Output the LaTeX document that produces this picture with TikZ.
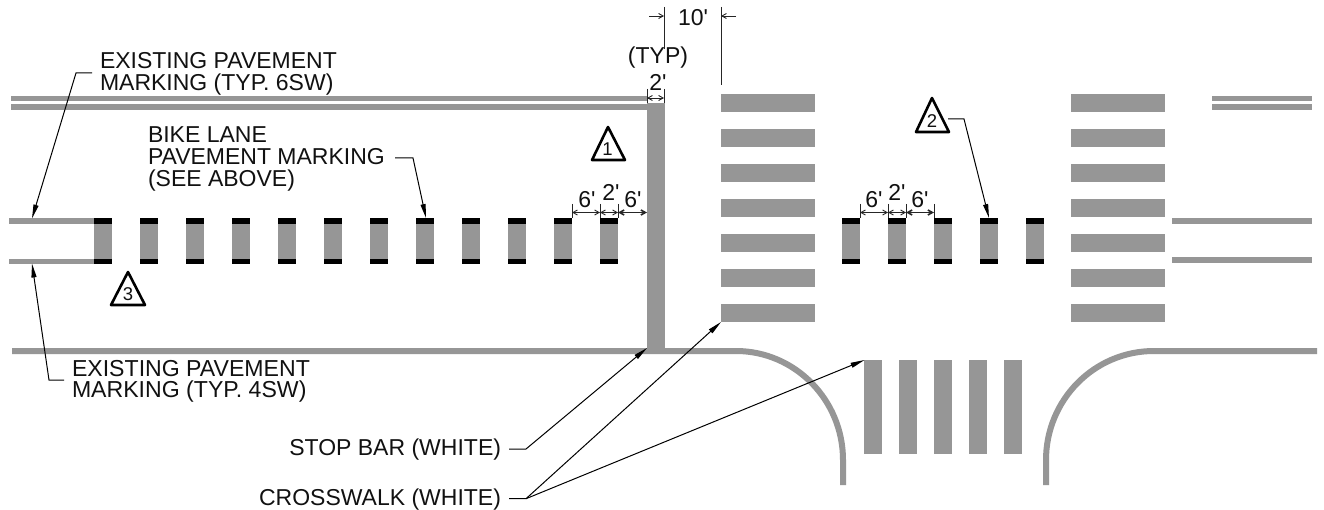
\documentclass[tikz,border=0pt]{standalone}
\usepackage{fontspec}
\setmainfont{Liberation Sans}[Ligatures=TeXOff]
\usetikzlibrary{arrows.meta}
\definecolor{pave}{HTML}{969696}
\definecolor{ink}{HTML}{111111}
\tikzset{
  mk/.style={fill=pave,draw=none},
  blk/.style={fill=black,draw=none},
  road/.style={draw=pave,line width=6pt},
  lbl/.style={inner sep=0pt,outer sep=0pt,text=ink,align=left,anchor=north west,font=\fontsize{23}{22}\selectfont},
  lblb/.style={lbl,font=\fontsize{23.1}{21.5}\selectfont},
  lblr/.style={inner sep=0pt,outer sep=0pt,text=ink,anchor=base east,font=\fontsize{23}{22}\selectfont},
  dimtxt/.style={inner sep=0pt,outer sep=0pt,text=ink,font=\fontsize{23}{22}\selectfont},
  leader/.style={draw=black,line width=1pt,line join=miter},
  leadarrow/.style={leader,-{Triangle[length=14pt,width=5pt]}},
  dimline/.style={draw=black!85,line width=0.9pt},
  dimarrow/.style={dimline,{Straight Barb[length=4.5pt,width=5pt]}-{Straight Barb[length=4.5pt,width=5pt]}},
  dimheavy/.style={dimarrow,line width=1.6pt},
  tri/.style={draw=black,line width=2.6pt,line join=round,fill=white},
  trinum/.style={inner sep=0pt,outer sep=0pt,text=ink,font=\fontsize{18.5}{18}\selectfont},
}
\begin{document}
\begin{tikzpicture}[x=1pt,y=-1pt]
\useasboundingbox (0,0) rectangle (1324,510);
\fill[white] (0,0) rectangle (1324,510);
% existing double line
\fill[mk] (11,96) rectangle (647,101.5);
\fill[mk] (11,104.5) rectangle (647,110);
\fill[mk] (1212,96) rectangle (1312,101.5);
\fill[mk] (1212,104.5) rectangle (1312,110);
% existing edge lines, bike lane
\fill[mk] (9,218) rectangle (94,224);
\fill[mk] (9,259) rectangle (94,264);
\fill[mk] (1172,218) rectangle (1312,224);
\fill[mk] (1172,257) rectangle (1312,263);
% kerb
\draw[road] (12,351) -- (736,351) .. controls (795,351) and (843,400) .. (843,460) -- (843,485);
\draw[road] (1317,351) -- (1154,351) .. controls (1094,351) and (1046,400) .. (1046,460) -- (1046,485);
% stop bar
\fill[mk] (647,103) rectangle (665,348);
% crosswalks
\foreach \y in {94,129,164,199,234,269,304}{
  \fill[mk] (721,\y) rectangle (815,\y+18);
  \fill[mk] (1071,\y) rectangle (1165,\y+18);
}
\foreach \x in {864,899,934,969,1004}{
  \fill[mk] (\x,360) rectangle (\x+18,454);
}
% bike lane marks
\foreach \x in {94,140,186,232,278,324,370,416,462,508,554,600,842,888,934,980,1026}{
  \fill[mk] (\x,224) rectangle (\x+18,259);
  \fill[blk] (\x,218) rectangle (\x+18,224);
  \fill[blk] (\x,259) rectangle (\x+18,264);
}
% triangles
\draw[tri] (608,127) -- (625,160) -- (592,160) -- cycle;
\node[trinum] (n1) at (607.5,149) {1};
\draw[tri] (932,98) -- (949,132) -- (916,132) -- cycle;
\node[trinum] (n2) at (932,121.5) {2};
\draw[tri] (128,272) -- (145,305) -- (111,305) -- cycle;
\node[trinum] (n3) at (128,294.5) {3};
% labels
\node[lbl] (exTop) at (100,52) {EXISTING PAVEMENT\\MARKING (TYP. 6SW)};
\node[lbl] (bike) at (148,126.5) {BIKE LANE\\PAVEMENT MARKING\\(SEE ABOVE)};
\node[lblb] (exBot) at (72,360) {EXISTING PAVEMENT\\MARKING (TYP. 4SW)};
\node[lblr] (stop) at (501,455) {STOP BAR (WHITE)};
\node[lblr] (cross) at (501,505) {CROSSWALK (WHITE)};
% leader targets
\coordinate (tTop) at (32,218.5);
\coordinate (tBot) at (32,263.5);
\coordinate (tBike) at (426,218);
\coordinate (tTwo) at (989,218);
\coordinate (tStop) at (647,348);
\coordinate (tCw1) at (721,322);
\coordinate (tCw2) at (864.5,360);
\coordinate (sTop) at (92,73);
\coordinate (kTop) at (76,73);
\coordinate (sBot) at (64,380);
\coordinate (kBot) at (49,380);
\coordinate (sBike) at (395,158);
\coordinate (kBike) at (413,158);
\coordinate (sTwo) at (948,119);
\coordinate (kTwo) at (964,119);
\coordinate (sStop) at (509,449);
\coordinate (kStop) at (526,449);
\coordinate (sCw) at (509,498.7);
\coordinate (kCw) at (526,498.7);
\draw[leadarrow] (sTop) -- (kTop) -- (tTop);
\draw[leadarrow] (sBot) -- (kBot) -- (tBot);
\draw[leadarrow] (sBike) -- (kBike) -- (tBike);
\draw[leadarrow] (sTwo) -- (kTwo) -- (tTwo);
\draw[leadarrow] (sStop) -- (kStop) -- (tStop);
\draw[leadarrow] (sCw) -- (kCw) -- (tCw1);
\draw[leadarrow] (kCw) -- (tCw2);
% top dimensions
\draw[dimline] (664,7) -- (664,49);
\draw[dimline] (721,7) -- (721,85);
\draw[dimline,-{Straight Barb[length=4.5pt,width=5pt]}] (649,16) -- (664,16);
\draw[dimline,-{Straight Barb[length=4.5pt,width=5pt]}] (736,16) -- (721,16);
\node[dimtxt] (d10) at (693,18) {10'};
\node[dimtxt] (typ) at (658,58) {(TYP)};
\node[dimtxt] (d2a) at (658,82) {2'};
\draw[dimline] (647,89) -- (647,103) (664,89) -- (664,103);
\draw[dimarrow] (647,98) -- (664,98);
% bike lane dimensions, left
\draw[dimline] (572,204) -- (572,218) (600,204) -- (600,218) (618,204) -- (618,218);
\draw[dimarrow] (572,212.5) -- (600,212.5);
\draw[dimarrow] (600,212.5) -- (618,212.5);
\draw[dimheavy] (618,212.5) -- (647,212.5);
\node[dimtxt] (d6a) at (587,200) {6'};
\node[dimtxt] (d2b) at (611,192) {2'};
\node[dimtxt] (d6b) at (633,200) {6'};
% bike lane dimensions, right
\draw[dimline] (860,204) -- (860,218) (888,204) -- (888,218) (906,204) -- (906,218) (934,204) -- (934,218);
\draw[dimarrow] (860,212.5) -- (888,212.5);
\draw[dimarrow] (888,212.5) -- (906,212.5);
\draw[dimheavy] (906,212.5) -- (934,212.5);
\node[dimtxt] (d6c) at (874,200) {6'};
\node[dimtxt] (d2c) at (897,192) {2'};
\node[dimtxt] (d6d) at (920,200) {6'};
\end{tikzpicture}
\end{document}
